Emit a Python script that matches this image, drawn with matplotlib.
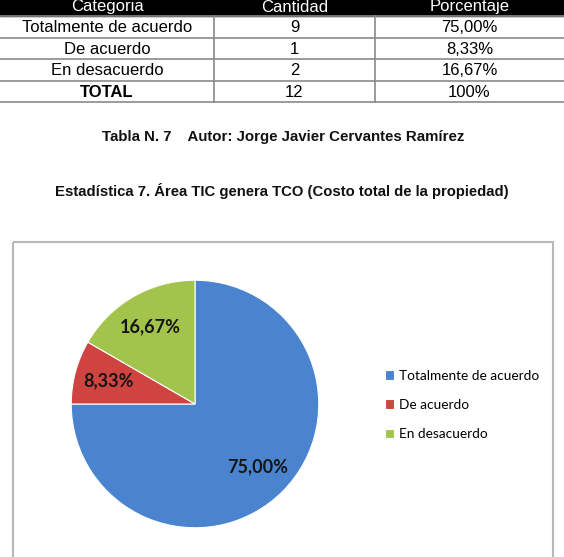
import matplotlib
matplotlib.use('Agg')
import matplotlib.pyplot as plt
from matplotlib.patches import Rectangle

# ---------- Data ----------
header = ['Categoria', 'Cantidad', 'Porcentaje']
categorias = ['Totalmente de acuerdo', 'De acuerdo', 'En desacuerdo']
cantidades = [9, 1, 2]
porcentajes = ['75,00%', '8,33%', '16,67%']
total_row = ['TOTAL', '12', '100%']

caption = 'Tabla N. 7    Autor: Jorge Javier Cervantes Ramírez'
title = 'Estadística 7. Área TIC genera TCO (Costo total de la propiedad)'

colores = ['#4A84CF', '#CF4440', '#A3C44C']

# ---------- Figure (pixel coordinates on a background axes) ----------
W, H = 564, 557
fig = plt.figure(figsize=(W / 100, H / 100), dpi=100)
bg = fig.add_axes([0, 0, 1, 1])
bg.set_xlim(0, W)
bg.set_ylim(H, 0)
bg.axis('off')

col_edges = [0, 214, 375, W]
row_edges = [-4, 16, 37.5, 59, 80.5, 102]
line_c = '#8a8a8a'

# header band
bg.add_patch(Rectangle((0, row_edges[0]), W, row_edges[1] - row_edges[0], color='black'))
# grid lines
for y in row_edges[1:]:
    bg.plot([0, W], [y, y], color=line_c, lw=1.2)
for x in col_edges[1:-1]:
    bg.plot([x, x], [row_edges[1], row_edges[-1]], color=line_c, lw=1.2)

rows = [header] + [[c, str(n), p] for c, n, p in zip(categorias, cantidades, porcentajes)] + [total_row]
for i, row in enumerate(rows):
    yc = (row_edges[i] + row_edges[i + 1]) / 2 + 1
    for j, txt in enumerate(row):
        xc = (col_edges[j] + col_edges[j + 1]) / 2
        bg.text(xc, yc, txt, ha='center', va='center', fontsize=12,
                family='Liberation Sans',
                color='white' if i == 0 else 'black',
                fontweight='bold' if (i == len(rows) - 1 and j == 0) else 'normal')

bg.text(W / 2 + 1, 137, caption, ha='center', va='center', fontsize=10.8,
        family='Liberation Sans', fontweight='bold', color='#111111')
bg.text(W / 2, 191, title, ha='center', va='center', fontsize=10.7,
        family='Liberation Sans', fontweight='bold', color='#111111')

# chart frame
bg.add_patch(Rectangle((13, 242), 540, 330, fill=False, edgecolor='#b8b8b8', lw=1.5))

# ---------- Pie ----------
cx, cy, r = 195, 404, 125
ax = fig.add_axes([(cx - r) / W, (H - cy - r) / H, 2 * r / W, 2 * r / H])
wedges, _, autotexts = ax.pie(
    cantidades, colors=colores, startangle=90, counterclock=False,
    autopct=lambda p: f'{p:.2f}%'.replace('.', ','), pctdistance=0.72,
    wedgeprops=dict(edgecolor='white', linewidth=0.8),
    textprops=dict(fontsize=13, fontweight='bold', family='Lato', color='#151515'))
ax.set_xlim(-1.01, 1.01)
ax.set_ylim(-1.01, 1.01)

leg = fig.legend(wedges, categorias, loc='upper left',
                 bbox_to_anchor=(378 / W, 1 - 363 / H), frameon=False,
                 prop=dict(family='Lato', size=9.8),
                 handlelength=0.65, handleheight=0.65, handletextpad=0.4,
                 labelspacing=1.25, borderpad=0)

fig.savefig('out.png', dpi=100)
